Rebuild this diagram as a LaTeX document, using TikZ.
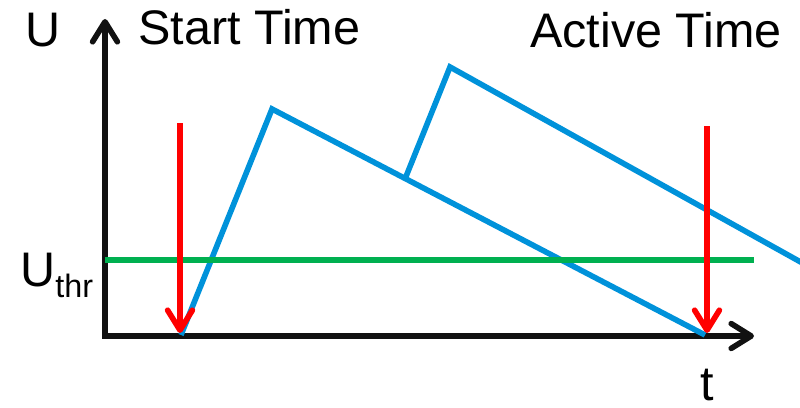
\documentclass[tikz,border=0pt]{standalone}
\usepackage{fontspec}
\setmainfont{Liberation Sans}
\usetikzlibrary{arrows.meta}

\definecolor{pulseblue}{RGB}{0,146,218}
\definecolor{thrgreen}{RGB}{0,176,80}
\definecolor{markred}{RGB}{255,0,0}
\definecolor{axisblack}{RGB}{17,17,17}

\tikzset{
  barb/.style={-{Straight Barb[length=0.5cm,width=0.62cm,round]}},
  axis/.style={line width=0.14cm, axisblack, {Straight Barb[length=0.5cm,width=0.62cm,round]}-{Straight Barb[length=0.5cm,width=0.62cm,round]}},
  pulse/.style={line width=0.14cm, pulseblue},
  thrline/.style={line width=0.14cm, thrgreen},
  marker/.style={line width=0.14cm, markred, barb},
  label/.style={inner sep=0pt, font=\fontsize{34.5}{40}\selectfont},
}

\begin{document}
\begin{tikzpicture}[x=0.025cm,y=-0.025cm]
  \useasboundingbox (0,0) rectangle (800,407);

  % axes
  \coordinate (utop) at (105,19);
  \coordinate (origin) at (105,336);
  \coordinate (tend) at (754,336);
  \draw[axis] (utop) -- (origin) -- (tend);

  % two pulses, the second one starting on the first
  \coordinate (p0) at (181,335);
  \coordinate (p1) at (272,109);
  \coordinate (p2) at (705,335);
  \coordinate (q0) at (405,179);
  \coordinate (q1) at (450,67);
  \coordinate (q2) at (806,265);
  \draw[pulse] (p0) -- (p1) -- (p2);
  \draw[pulse] (q0) -- (q1) -- (q2);

  % threshold
  \coordinate (thrA) at (105,260);
  \coordinate (thrB) at (754,260);
  \draw[thrline] (thrA) -- (thrB);

  % start and active time
  \coordinate (startA) at (180,123);
  \coordinate (startB) at (180,333);
  \coordinate (activeA) at (707,126);
  \coordinate (activeB) at (707,333);
  \draw[marker] (startA) -- (startB);
  \draw[marker] (activeA) -- (activeB);

  % labels
  \node[label, anchor=base west] (ulabel) at (25,47) {U};
  \node[label, anchor=base west] (startlabel) at (138,45) {Start Time};
  \node[label, anchor=base west] (activelabel) at (530,48) {Active Time};
  \node[label, anchor=base west] (thrlabel) at (20,286)
    {U\raisebox{-0.28cm}{\fontsize{23}{27}\selectfont thr}};
  \node[label, anchor=base] (tlabel) at (707,400) {t};
\end{tikzpicture}
\end{document}
